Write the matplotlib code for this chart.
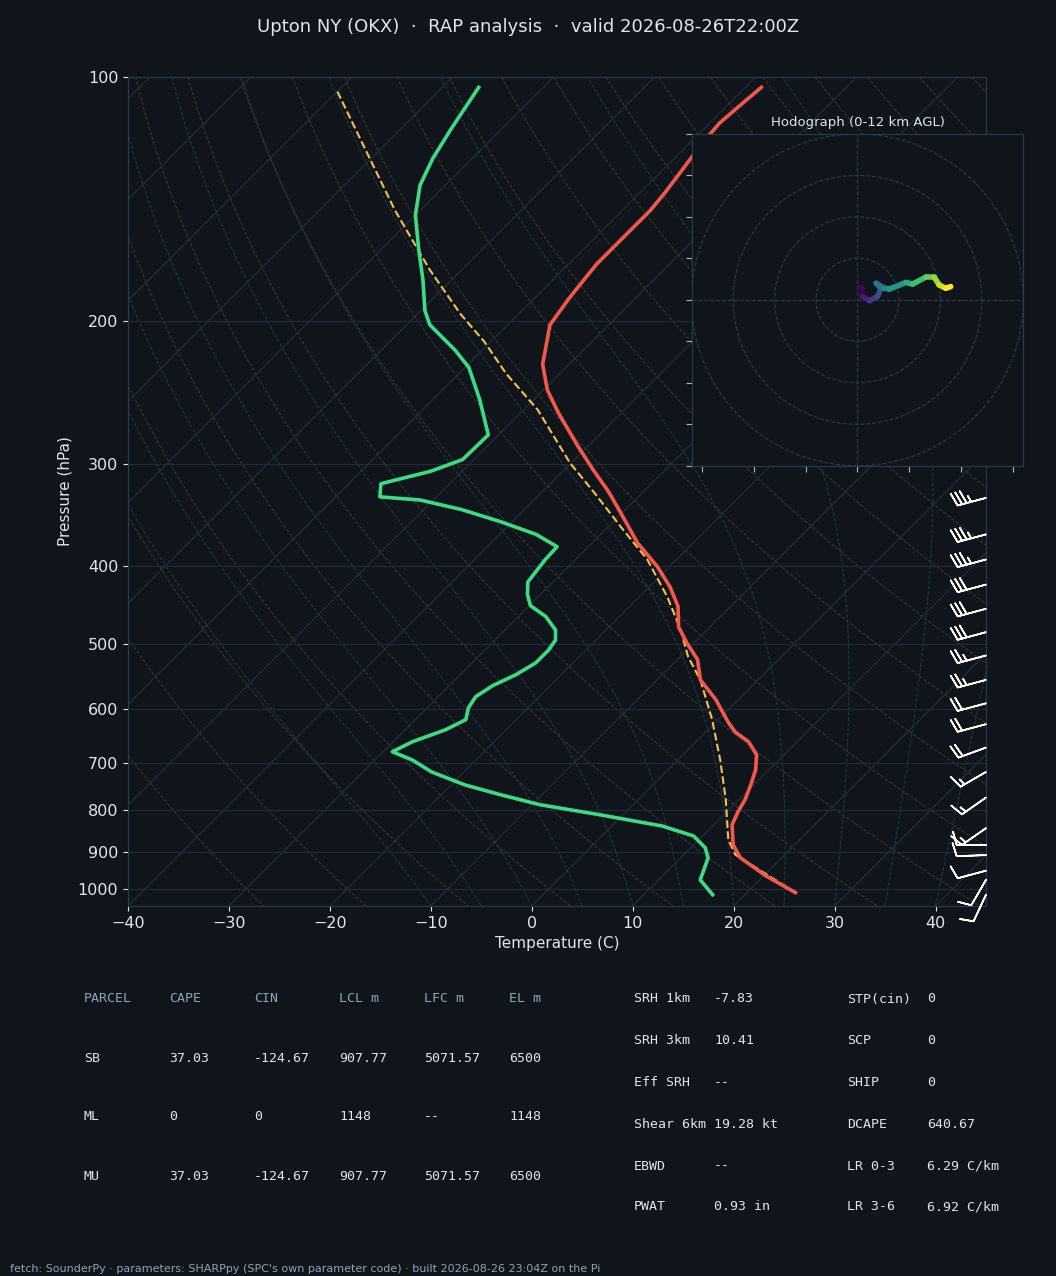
import matplotlib
matplotlib.use("Agg")
import matplotlib.pyplot as plt
import numpy as np
from matplotlib.collections import LineCollection

BG = "#10151c"
TXT = "#dfe5ec"

# temperature profile (hPa, C)
t_p = [1011, 964, 916, 883, 834, 804, 777, 745, 714, 684, 659, 641, 623, 585, 553, 522, 498,
       476, 449, 425, 401, 375, 344, 324, 305, 285, 259, 243, 226, 202, 188, 183, 170, 161,
       152, 146, 139, 131, 121, 114, 108, 103]
t_c = [24.8, 20.2, 15.9, 13.9, 11.8, 11.1, 10.6, 9.7, 8.7, 7.3, 5.2, 2.9, 1.2, -2.2, -5.7,
       -8.0, -10.7, -13.1, -15.2, -17.9, -21.2, -25.5, -30.2, -33.5, -37.1, -41.0, -46.3,
       -49.6, -52.6, -55.8, -56.5, -56.7, -57.2, -57.2, -57.2, -57.2, -57.5, -58.0, -58.7,
       -59.0, -58.7, -58.4]

# dewpoint profile
td_p = [1017, 975, 916, 890, 861, 837, 811, 788, 766, 745, 718, 694, 678, 659, 637, 619, 599,
        580, 562, 545, 527, 508, 494, 480, 462, 448, 434, 419, 393, 379, 366, 353, 341, 332,
        329, 317, 306, 296, 276, 250, 228, 217, 202, 194, 178, 163, 148, 136, 126, 116, 103]
td_c = [16.8, 14.1, 12.7, 11.4, 9.1, 5.0, -2.2, -9.2, -14.1, -18.6, -23.2, -26.3, -29.1,
        -28.1, -26.0, -25.0, -25.9, -26.3, -25.7, -24.5, -23.7, -23.7, -24.0, -25.0, -27.3,
        -29.9, -31.3, -32.5, -33.0, -33.1, -36.4, -41.2, -46.3, -51.3, -55.6, -56.8, -53.1,
        -51.1, -51.0, -55.3, -59.6, -62.7, -67.7, -69.6, -72.8, -76.3, -80.0, -82.5, -83.9,
        -85.0, -86.4]

# surface-based parcel
pc_p = [1011, 908, 870, 777, 694, 619, 553, 518, 480, 437, 393, 358, 325, 299, 257, 232,
        212, 196, 173, 146, 123, 104]
pc_c = [24.8, 15.1, 12.9, 8.7, 4.2, -0.6, -5.7, -9.2, -12.6, -17.2, -22.9, -28.8, -34.8,
        -40.1, -48.6, -55.3, -60.6, -65.7, -73.1, -82.5, -91.4, -100.1]

# wind barbs
wb_p = [330, 366, 393, 422, 452, 483, 516, 553, 591, 627, 670, 718, 772, 842, 883, 909, 950,
        975, 1017]
wb_dir = [255, 255, 255, 255, 255, 255, 255, 255, 255, 255, 250, 240, 235, 235, 270, 268,
          255, 210, 205]
wb_kt = [35, 35, 35, 30, 30, 30, 25, 25, 20, 20, 20, 15, 15, 15, 10, 10, 10, 10, 10]

# hodograph (u, v)
hodo_u = [0.9, 1.2, 2.9, 4.8, 5.7, 4.5, 6.5, 7.7, 11.7, 13.3, 16.5, 18.5, 19.7, 21.3, 22.5]
hodo_v = [3.2, 0.8, -0.2, 0.8, 2.8, 4.0, 2.8, 2.6, 4.2, 3.8, 5.5, 5.5, 3.6, 2.8, 3.2]

parcel_rows = [["PARCEL", "CAPE", "CIN", "LCL m", "LFC m", "EL m"],
               ["SB", "37.03", "-124.67", "907.77", "5071.57", "6500"],
               ["ML", "0", "0", "1148", "--", "1148"],
               ["MU", "37.03", "-124.67", "907.77", "5071.57", "6500"]]
params_left = [("SRH 1km", "-7.83"), ("SRH 3km", "10.41"), ("Eff SRH", "--"),
               ("Shear 6km", "19.28 kt"), ("EBWD", "--"), ("PWAT", "0.93 in")]
params_right = [("STP(cin)", "0"), ("SCP", "0"), ("SHIP", "0"), ("DCAPE", "640.67"),
                ("LR 0-3", "6.29 C/km"), ("LR 3-6", "6.92 C/km")]


def skew(t, p):
    return np.asarray(t) + 80.47 * np.log10(1050.0 / np.asarray(p))


fig = plt.figure(figsize=(10.56, 12.76), dpi=100, facecolor=BG)
ax = fig.add_axes([0.1212, 0.290, 0.8125, 0.6497], facecolor=BG)
ax.set_yscale("log")
ax.set_ylim(1050, 100)
ax.set_xlim(-40, 45)

# background lines
pp = np.logspace(np.log10(100), np.log10(1050), 120)
for t0 in range(-120, 50, 10):
    ax.plot(skew(t0 * np.ones_like(pp), pp), pp, color="#26303b", lw=0.8, zorder=1)
for th in range(-30, 200, 10):
    tt = (th + 273.15) * (pp / 1000.0) ** 0.286 - 273.15
    ax.plot(skew(tt, pp), pp, color="#3a3a2e", lw=0.7, ls="--", zorder=1)


def moist(t0):
    ps = np.linspace(1050, 100, 300)
    out = [t0]
    t = t0
    for i in range(1, len(ps)):
        T = t + 273.15
        es = 6.112 * np.exp(17.67 * t / (t + 243.5))
        rs = 0.622 * es / (ps[i - 1] - es)
        num = 287 * T + 2.5e6 * rs
        den = 1004 + 2.5e6 ** 2 * rs * 0.622 / (287 * T * T)
        t = t + num / den / ps[i - 1] * (ps[i] - ps[i - 1])
        out.append(t)
    return ps, np.array(out)


for t0 in range(-10, 45, 5):
    ps, tt = moist(t0)
    ax.plot(skew(tt, ps), ps, color="#243a40", lw=0.7, ls="--", zorder=1)

for p in range(100, 1001, 100):
    ax.axhline(p, color="#222b35", lw=0.8, zorder=1)

ax.plot(skew(pc_c, pc_p), pc_p, color="#f2c14e", lw=1.5, ls="--", zorder=4)
ax.plot(skew(t_c, t_p), t_p, color="#f4584a", lw=2.6, zorder=5)
ax.plot(skew(td_c, td_p), td_p, color="#3ddc84", lw=2.6, zorder=5)

wd = np.radians(wb_dir)
u = -np.array(wb_kt) * np.sin(wd)
v = -np.array(wb_kt) * np.cos(wd)
ax.barbs(np.ones(len(wb_p)), wb_p, u, v, transform=ax.get_yaxis_transform(),
         color="white", length=6.5, linewidth=1.2, clip_on=False, zorder=6,
         sizes=dict(spacing=0.16, height=0.45))

ax.set_yticks(range(100, 1001, 100))
ax.set_yticklabels([str(p) for p in range(100, 1001, 100)])
ax.yaxis.set_minor_locator(plt.NullLocator())
ax.set_xticks(range(-40, 41, 10))
ax.tick_params(colors=TXT, labelsize=11.5)
for s in ax.spines.values():
    s.set_color("#2e3a48")
ax.set_xlabel("Temperature (C)", color=TXT, fontsize=11)
ax.set_ylabel("Pressure (hPa)", color=TXT, fontsize=11)

# hodograph
hx = fig.add_axes([0.655, 0.635, 0.314, 0.260], facecolor=BG)
hx.set_xlim(-40, 40)
hx.set_ylim(-40, 40)
ang = np.linspace(0, 2 * np.pi, 200)
for r in (10, 20, 30, 40):
    hx.plot(r * np.cos(ang), r * np.sin(ang), color="#2e3a48", lw=0.8, ls="--")
hx.axhline(0, color="#2e3a48", lw=0.8, ls="--")
hx.axvline(0, color="#2e3a48", lw=0.8, ls="--")
pts = np.column_stack([hodo_u, hodo_v])
segs = np.stack([pts[:-1], pts[1:]], axis=1)
lc = LineCollection(segs, cmap="viridis", linewidths=4, capstyle="round")
lc.set_array(np.arange(len(segs)))
hx.add_collection(lc)
hx.set_xticks(np.arange(-37.5, 38, 12.5))
hx.set_yticks(range(-40, 41, 10))
hx.set_xticklabels([])
hx.set_yticklabels([])
hx.tick_params(colors="#aab4c0", length=4)
for s in hx.spines.values():
    s.set_color("#2e3a48")
hx.set_title("Hodograph (0-12 km AGL)", color=TXT, fontsize=9.5)

fig.text(0.5, 1 - 27 / 1276, "Upton NY (OKX)  ·  RAP analysis  ·  valid 2026-08-26T22:00Z",
         ha="center", va="center", color=TXT, fontsize=13)

mono = "DejaVu Sans Mono"
col_x = [84, 169, 254, 339, 424, 509]
row_y = [999, 1058, 1117, 1176]
for ri, row in enumerate(parcel_rows):
    for ci, cell in enumerate(row):
        fig.text(col_x[ci] / 1056, 1 - row_y[ri] / 1276, cell, family=mono, fontsize=9.5,
                 color="#8fa3b8" if ri == 0 else TXT, va="center")
prow_y = [999, 1041, 1083, 1124, 1166, 1207]
for i, ((k1, v1), (k2, v2)) in enumerate(zip(params_left, params_right)):
    y = 1 - prow_y[i] / 1276
    fig.text(634 / 1056, y, k1, family=mono, fontsize=9.5, color=TXT, va="center")
    fig.text(714 / 1056, y, v1, family=mono, fontsize=9.5, color=TXT, va="center")
    fig.text(847 / 1056, y, k2, family=mono, fontsize=9.5, color=TXT, va="center")
    fig.text(927 / 1056, y, v2, family=mono, fontsize=9.5, color=TXT, va="center")

fig.text(10 / 1056, 1 - 1269 / 1276,
         "fetch: SounderPy · parameters: SHARPpy (SPC's own parameter code) · built 2026-08-26 23:04Z on the Pi",
         color="#8fa3b8", fontsize=8, va="center")

fig.savefig("out.png", dpi=100, facecolor=BG)
